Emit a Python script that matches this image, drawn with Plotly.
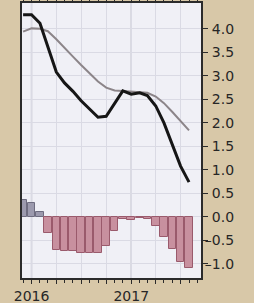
import plotly.graph_objects as go

months = ["2015-12-01", "2016-01-01", "2016-02-01", "2016-03-01", "2016-04-01", "2016-05-01",
          "2016-06-01", "2016-07-01", "2016-08-01", "2016-09-01", "2016-10-01", "2016-11-01",
          "2016-12-01", "2017-01-01", "2017-02-01", "2017-03-01", "2017-04-01", "2017-05-01",
          "2017-06-01", "2017-07-01", "2017-08-01"]
actual = [4.30, 4.30, 4.12, 3.60, 3.08, 2.85, 2.67, 2.47, 2.29, 2.12, 2.14, 2.40,
          2.68, 2.61, 2.64, 2.58, 2.36, 2.00, 1.54, 1.08, 0.74]
average = [3.94, 4.01, 4.00, 3.95, 3.78, 3.59, 3.41, 3.23, 3.05, 2.88, 2.75, 2.69,
           2.68, 2.67, 2.66, 2.64, 2.56, 2.42, 2.23, 2.04, 1.84]
difference = [0.36, 0.30, 0.11, -0.34, -0.70, -0.73, -0.73, -0.77, -0.77, -0.77, -0.61, -0.29,
              -0.05, -0.07, -0.03, -0.05, -0.20, -0.43, -0.69, -0.96, -1.08]

x_tickvals = ["2016-01-01", "2016-04-01", "2016-07-01", "2016-10-01",
              "2017-01-01", "2017-04-01", "2017-07-01"]
x_ticktext = ["2016", "", "", "", "2017", "", ""]
year_ticks = ["2016-01-01", "2017-01-01"]
y_tickvals = [-1.0, -0.5, 0.0, 0.5, 1.0, 1.5, 2.0, 2.5, 3.0, 3.5, 4.0]

def ylab(v):
    return ("\u2013" if v < 0 else "\u2002") + f"{abs(v):.1f}"

y_ticktext = [ylab(v) for v in y_tickvals]

bar_fill = ["#9c9aae" if d >= 0 else "#c8909f" for d in difference]
bar_edge = ["#6e6c80" if d >= 0 else "#9a5a6c" for d in difference]

fig = go.Figure()
fig.add_trace(go.Bar(x=months, y=difference, marker=dict(color=bar_fill,
                     line=dict(color=bar_edge, width=1)), showlegend=False))
fig.add_trace(go.Scatter(x=months, y=average, mode="lines",
                         line=dict(color="#8c8589", width=2), showlegend=False))
fig.add_trace(go.Scatter(x=months, y=actual, mode="lines",
                         line=dict(color="#161616", width=3), showlegend=False))

for yt in year_ticks:
    fig.add_vline(x=yt, line=dict(color="#c4c4ce", width=1.5), layer="below")

fig.update_layout(
    width=254, height=303,
    margin=dict(l=22, r=53, t=3, b=25),
    paper_bgcolor="#d8c8a8",
    plot_bgcolor="#f0f0f6",
    bargap=0,
    font=dict(family="DejaVu Sans", size=14, color="#262626"),
)
fig.update_xaxes(
    type="date", automargin=False,
    range=["2015-11-27", "2017-09-14"],
    tickvals=x_tickvals, ticktext=x_ticktext,
    ticks="outside", ticklen=4, tickcolor="#2b2b2b",
    showgrid=True, gridcolor="#dadae4", gridwidth=1,
    showline=True, linecolor="#2b2b2b", linewidth=2, mirror="ticks",
    minor=dict(dtick="M1", ticks="outside", ticklen=3, tickcolor="#2b2b2b", showgrid=False),
    zeroline=False,
)
fig.update_yaxes(
    side="right", automargin=False,
    range=[-1.30, 4.55],
    tickvals=y_tickvals, ticktext=y_ticktext,
    ticks="outside", ticklen=5, tickcolor="#2b2b2b",
    ticklabelstandoff=-6,
    showgrid=True, gridcolor="#dadae4", gridwidth=1,
    showline=True, linecolor="#2b2b2b", linewidth=2, mirror=True,
    zeroline=False,
)

fig.write_html("out.html",
               config={"displayModeBar": False},
               post_script="document.body.style.margin='0';document.body.style.padding='0';"
                           "document.body.style.background='#d8c8a8';")
